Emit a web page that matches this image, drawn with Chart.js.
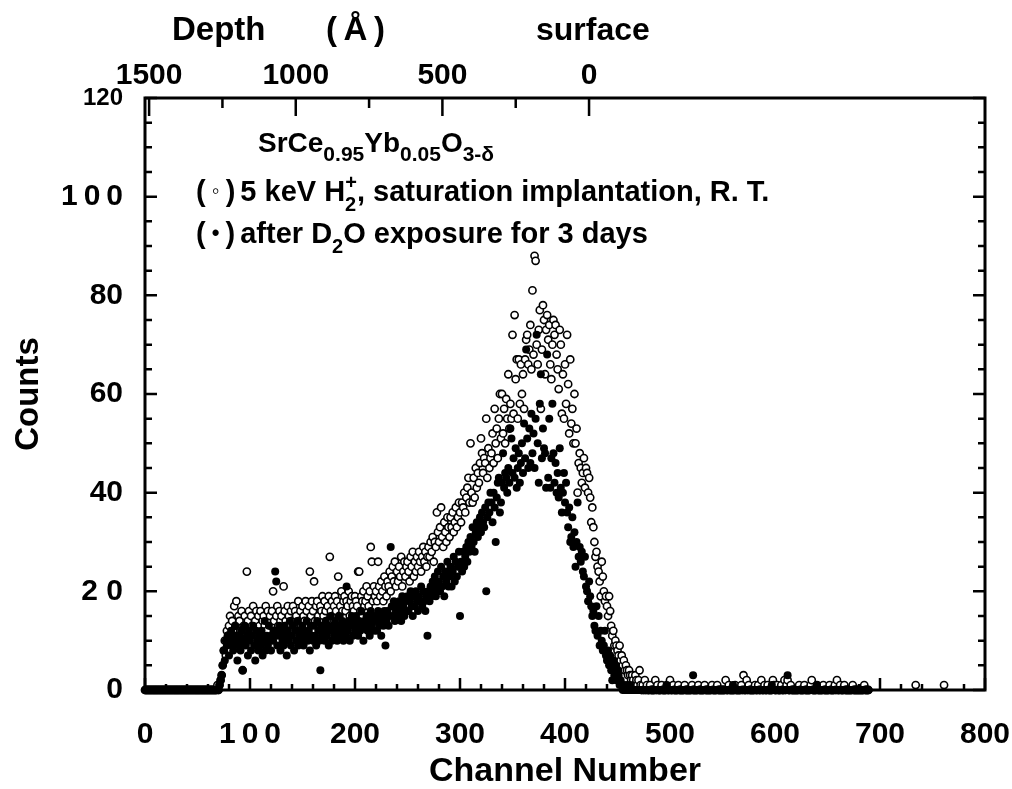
<!DOCTYPE html>
<html>
<head>
<meta charset="utf-8">
<script src="https://cdn.jsdelivr.net/npm/chart.js@4/dist/chart.umd.min.js"></script>
<style>
  html, body { margin: 0; padding: 0; background: #fff; }
</style>
</head>
<body>
<canvas id="c" width="1012" height="789"></canvas>
<script>
const n = null;

// counts per channel, channel 0..799
// (o) 5 keV H2+, saturation implantation
const implanted = [
  0,0,0,0,0,0,0,0,0,0, 0,0,0,0,0,0,0,0,0,0, 0,0,0,0,0,0,0,0,0,0,
  0,0,0,0,0,0,0,0,0,0, 0,0,0,0,0,0,0,0,0,0, 0,0,0,0,0,0,0,0,0,0,
  0,0,0,0,0,0,0,0,0,1, 0,1,2,3,5,8,10,7,12,11,
  13,15,10,14,12,17,13,18,11,15, 14,12,16,4,13,15,11,24,14,16,
  12,15,13,17,10,14,16,12,15,13, 16,11,14,15,13,17,12,16,14,15,
  13,16,20,14,12,15,17,13,16,14, 15,12,21,16,14,13,17,15,12,16,
  14,17,13,16,15,11,18,14,16,13, 17,15,14,18,16,13,17,24,15,18,
  16,22,14,17,18,15,13,17,16,19, 15,18,16,14,17,19,27,16,18,15,
  17,19,16,18,23,15,17,20,16,18, 19,16,18,17,20,15,18,19,17,16,
  19,18,17,24,24,16,19,18,20,17, 18,21,19,17,20,29,26,18,21,19,
  20,18,26,21,19,22,20,18,23,21, 19,22,21,24,20,23,25,22,26,21,
  24,22,25,23,27,21,24,26,23,25, 26,24,22,27,25,28,23,26,24,27,
  25,28,26,24,27,29,26,28,25,27, 29,27,30,28,31,26,30,29,36,32,
  30,33,37,31,29,34,32,30,35,33, 31,35,33,36,32,34,37,33,35,38,
  36,34,38,37,40,36,39,41,43,38, 50,40,38,43,39,45,41,44,42,46,
  51,48,44,47,46,55,43,49,45,47, 48,52,46,57,50,53,47,55,60,51,
  60,52,57,50,59,55,64,53,58,55, 72,56,76,63,67,55,67,58,66,60,
  64,57,67,71,72,66,69,74,65,81, 68,88,87,70,66,73,77,57,69,78,
  75,64,73,76,71,74,66,63,70,75, 72,74,68,65,61,73,70,56,64,55,
  66,58,72,62,52,67,54,57,50,60, 50,53,40,46,48,45,42,44,47,41,
  45,44,40,43,39,34,37,33,30,27, 28,25,24,22,19,26,23,20,18,19,
  17,15,19,16,13,11,12,9,10,9, 8,7,9,6,7,5,6,4,5,4,
  3,4,3,2,3,2,1,3,2,1, 2,4,1,0,1,0,2,0,1,0,
  0,1,0,0,0,0,2,0,1,0, 0,0,1,0,0,0,0,1,0,0,
  2,0,0,1,0,0,0,0,1,0, 0,0,0,0,1,0,0,0,0,0,
  0,1,0,0,0,0,0,1,0,0, 0,0,0,1,0,0,0,0,0,0,
  1,0,0,0,0,1,0,0,0,0, 0,0,0,2,0,0,1,0,0,0,
  0,0,1,0,0,0,0,0,1,0, 3,0,0,2,0,1,0,0,0,0,
  0,1,0,0,1,0,0,2,0,0, 1,0,0,1,0,0,0,0,2,1,
  0,0,1,0,0,0,1,0,0,2, 0,1,2,0,0,1,0,0,0,0,
  0,0,0,1,0,0,0,0,1,0, 0,0,0,0,1,2,0,0,0,0,
  1,0,0,0,0,0,1,0,0,0, 0,0,1,0,0,0,0,1,0,2,
  0,0,1,0,0,0,1,0,0,0, 0,0,0,0,1,0,0,0,0,0,
  0,0,0,0,0,1,0,0,0,0, n,n,n,n,n,n,n,n,n,n,
  n,n,n,n,n,n,n,n,n,n, n,n,n,n,n,n,n,n,n,n,
  n,n,n,n,n,n,n,n,n,n, n,n,n,n,1,n,n,n,n,n,
  n,n,n,n,n,n,n,n,n,n, n,n,n,n,n,n,n,n,n,n,
  n,1,n,n,n,n,n,n,n,n, n,n,n,n,n,n,n,n,n,n
];

// (*) after D2O exposure for 3 days
const exposed = [
  0,0,0,0,0,0,0,0,0,0, 0,0,0,0,0,0,0,0,0,0, 0,0,0,0,0,0,0,0,0,0,
  0,0,0,0,0,0,0,0,0,0, 0,0,0,0,0,0,0,0,0,0, 0,0,0,0,0,0,0,0,0,0,
  0,0,0,0,0,0,0,0,0,0, 0,1,2,3,5,8,6,10,9,11,
  7,10,12,9,8,11,13,10,6,9, 11,8,12,4,10,13,9,11,7,12,
  10,8,11,13,9,6,12,10,8,11, 9,12,7,10,14,8,11,9,13,10,
  8,11,10,12,24,22,9,11,13,8, 12,10,9,13,11,7,12,10,14,9,
  11,13,8,12,10,14,9,11,12,10, 13,9,12,11,14,10,12,8,13,11,
  10,13,11,9,14,12,10,4,13,11, 12,10,14,11,13,9,12,15,10,13,
  11,14,12,10,13,15,11,12,14,10, 13,11,21,12,14,10,13,15,11,14,
  12,15,13,11,14,12,16,13,10,14, 13,15,12,14,11,16,13,15,12,14,
  15,12,16,13,14,11,15,13,16,9, 14,16,13,15,29,17,15,18,14,16,
  17,15,18,16,14,19,17,15,18,16, 19,16,18,20,17,15,19,17,20,18,
  16,19,18,21,17,20,18,16,19,11, 20,18,21,19,22,20,23,19,21,24,
  22,20,25,21,23,19,24,22,26,21, 23,25,21,24,27,22,26,23,25,28,
  15,26,24,28,25,27,29,26,30,28, 31,29,33,30,28,32,34,31,33,35,
  32,36,34,33,37,20,35,38,36,40, 38,34,40,37,30,39,42,43,36,38,
  42,48,41,44,43,40,45,42,53,51, 44,47,43,49,41,45,48,42,46,50,
  44,54,47,69,51,45,53,46,56,48, 52,45,55,72,50,42,58,64,47,53,
  49,48,41,68,43,55,41,47,58,48, 42,46,40,44,39,49,41,36,40,44,
  38,42,36,33,37,30,31,35,29,32, 25,30,38,27,29,26,28,24,23,27,
  21,20,18,22,19,17,15,16,13,12, 17,11,15,9,12,10,8,9,12,7,
  6,8,5,7,4,2,6,3,5,2, 4,3,1,2,1,0,1,0,0,1,
  0,0,1,0,0,0,0,0,0,0, 0,0,0,0,0,0,0,0,0,0,
  0,0,0,0,0,0,0,0,0,0, 0,0,0,0,0,0,0,1,0,0,
  0,0,0,0,0,0,0,0,0,0, 0,0,0,0,0,0,0,0,0,0,
  0,0,3,0,0,0,0,0,0,0, 0,0,0,0,0,0,0,0,0,0,
  0,0,0,0,0,0,0,0,0,0, 0,0,0,0,0,0,0,0,0,0,
  1,0,0,0,0,0,0,0,0,0, 0,0,0,0,0,0,0,0,0,0,
  0,0,0,0,0,0,0,0,0,0, 0,0,0,0,0,0,0,1,0,0,
  0,0,0,0,0,0,0,0,0,0, 0,0,3,0,0,0,0,0,0,0,
  0,0,0,0,0,0,0,0,0,0, 0,0,0,0,0,0,0,0,0,0,
  1,0,0,0,0,0,0,0,0,0, 0,0,0,0,0,0,0,0,0,0,
  0,0,0,0,0,0,0,0,0,0, 0,0,0,0,0,0,0,0,0,0,
  0,0,0,0,0,0,0,0,0,0, n,n,n,n,n,n,n,n,n,n,
  n,n,n,n,n,n,n,n,n,n, n,n,n,n,n,n,n,n,n,n,
  n,n,n,n,n,n,n,n,n,n, n,n,n,n,n,n,n,n,n,n,
  n,n,n,n,n,n,n,n,n,n, n,n,n,n,n,n,n,n,n,n,
  n,n,n,n,n,n,n,n,n,n, n,n,n,n,n,n,n,n,n,n
];

const channels = implanted.map((_, i) => i);

const xTickLabels = [0, 100, 200, 300, 400, 500, 600, 700, 800];
const yTickLabels = [0, 20, 40, 60, 80, 100, 120];
const depthLabels = [1500, 1000, 500, 0];
const depthMinor = [1250, 750, 250];
// depth (A) at the left and right edge of the channel axis
const depthLeft = 1514;
const depthRight = -1350;

const FONT = '"Liberation Sans", Arial, Helvetica, sans-serif';
const THIN = '\u2009';

const toPoints = vals => vals
  .map((v, i) => v === null ? null : { x: channels[i], y: v })
  .filter(Boolean);

// keep the plot box fixed: no extra room for overhanging labels
const noOverhang = s => {
  s.paddingLeft = 0; s.paddingRight = 0;
  s.paddingTop = 0; s.paddingBottom = 0;
};

// frame and inward tick marks
const frameTicks = {
  id: 'frameTicks',
  beforeDatasetsDraw(chart) {
    const { ctx, chartArea: a } = chart;
    const x = chart.scales.x, y = chart.scales.y, d = chart.scales.x2;
    ctx.save();
    ctx.strokeStyle = '#000';
    ctx.lineWidth = 3;
    ctx.strokeRect(a.left, a.top, a.right - a.left, a.bottom - a.top);
    ctx.lineWidth = 2.5;
    ctx.beginPath();
    for (let v = 0; v <= 800; v += 20) {
      const px = x.getPixelForValue(v);
      const len = v % 100 === 0 ? 12 : 6;
      ctx.moveTo(px, a.bottom); ctx.lineTo(px, a.bottom - len);
    }
    for (let v = 0; v <= 120; v += 5) {
      const py = y.getPixelForValue(v);
      const len = v % 20 === 0 ? 12 : 7;
      ctx.moveTo(a.left, py); ctx.lineTo(a.left + len, py);
      ctx.moveTo(a.right, py); ctx.lineTo(a.right - len, py);
    }
    depthLabels.concat(depthMinor).forEach(v => {
      const px = d.getPixelForValue(v);
      const len = v % 500 === 0 ? 18 : 10;
      ctx.moveTo(px, a.top); ctx.lineTo(px, a.top + len);
    });
    ctx.stroke();
    ctx.restore();
  }
};

// texts: depth header and sample notes
function rich(ctx, x, y, parts) {
  parts.forEach(p => {
    ctx.font = 'bold ' + p.size + 'px ' + FONT;
    ctx.fillText(p.t, x, y + (p.dy || 0));
    x += ctx.measureText(p.t).width + (p.gap || 0);
  });
}

const notes = {
  id: 'notes',
  afterDraw(chart) {
    const ctx = chart.ctx;
    ctx.save();
    ctx.fillStyle = '#000';
    ctx.textBaseline = 'alphabetic';
    ctx.textAlign = 'left';
    ctx.font = 'bold 33px ' + FONT;
    ctx.fillText('Depth', 172, 40);
    ctx.fillText('(' + THIN + 'Å' + THIN + ')', 326, 40);
    ctx.font = 'bold 32px ' + FONT;
    ctx.fillText('surface', 536, 40);

    rich(ctx, 258, 152, [
      { t: 'SrCe', size: 28 }, { t: '0.95', size: 21, dy: 9 },
      { t: 'Yb', size: 28 }, { t: '0.05', size: 21, dy: 9 },
      { t: 'O', size: 28 }, { t: '3-δ', size: 21, dy: 9 }
    ]);
    rich(ctx, 196, 201, [
      { t: '(', size: 29 }, { t: ' ◦ ', size: 22, dy: -3 }, { t: ')', size: 29, gap: 5 },
      { t: '5 keV H', size: 29 }, { t: '2', size: 20, dy: 10, gap: -11 },
      { t: '+', size: 20, dy: -12 },
      { t: ', saturation implantation, R. T.', size: 29 }
    ]);
    rich(ctx, 196, 243, [
      { t: '(', size: 29 }, { t: ' • ', size: 22, dy: -3 }, { t: ')', size: 29, gap: 5 },
      { t: 'after D', size: 29 }, { t: '2', size: 20, dy: 10 },
      { t: 'O exposure for 3 days', size: 29 }
    ]);
    ctx.restore();
  }
};

new Chart(document.getElementById('c'), {
  type: 'scatter',
  data: {
    datasets: [
      {
        label: 'after D2O exposure for 3 days',
        data: toPoints(exposed),
        pointRadius: 4,
        pointBorderWidth: 0,
        pointBackgroundColor: '#000',
        pointBorderColor: '#000',
        order: 0,
        clip: false
      },
      {
        label: '5 keV H2+, saturation implantation, R. T.',
        data: toPoints(implanted),
        pointRadius: 3.6,
        pointBorderWidth: 1.6,
        pointBackgroundColor: '#fff',
        pointBorderColor: '#000',
        order: 1,
        clip: false
      }
    ]
  },
  options: {
    responsive: false,
    animation: false,
    devicePixelRatio: 1,
    layout: { padding: { left: 0, right: 27, top: 0, bottom: 0 } },
    plugins: {
      legend: { display: false },
      tooltip: { enabled: false }
    },
    scales: {
      x: {
        type: 'linear',
        position: 'bottom',
        min: 0, max: 800,
        afterBuildTicks: s => { s.ticks = xTickLabels.map(v => ({ value: v })); },
        ticks: {
          autoSkip: false, maxRotation: 0, padding: 27, color: '#000',
          callback: v => v === 100 ? ['1', '0', '0'].join(THIN) : String(v),
          font: { family: FONT, weight: 'bold', size: 30 }
        },
        grid: { display: false, drawTicks: false },
        border: { display: false },
        title: {
          display: true, text: 'Channel Number', color: '#000',
          font: { family: FONT, weight: 'bold', size: 34, lineHeight: 1 },
          padding: { top: 0, bottom: 0 }
        },
        afterFit: s => { noOverhang(s); s.height = 99; }
      },
      x2: {
        type: 'linear',
        position: 'top',
        reverse: true,
        min: depthRight, max: depthLeft,
        afterBuildTicks: s => { s.ticks = depthLabels.map(v => ({ value: v })); },
        ticks: {
          autoSkip: false, maxRotation: 0, padding: 4, color: '#000',
          callback: v => String(v),
          font: { family: FONT, weight: 'bold', size: 30 }
        },
        grid: { display: false, drawTicks: false },
        border: { display: false },
        afterFit: s => { noOverhang(s); s.height = 98; }
      },
      y: {
        min: 0, max: 120,
        afterBuildTicks: s => { s.ticks = yTickLabels.map(v => ({ value: v })); },
        ticks: {
          padding: 22, color: '#000',
          callback: v => v === 20 ? '2 0' : v === 100 ? ['1', '0', '0'].join(THIN) : String(v),
          font: c => ({ family: FONT, weight: 'bold', size: c.tick && c.tick.value === 120 ? 24 : 30 })
        },
        grid: { display: false, drawTicks: false },
        border: { display: false },
        title: {
          display: true, text: 'Counts', color: '#000',
          font: { family: FONT, weight: 'bold', size: 33 },
          padding: { top: 9, bottom: 6 }
        },
        afterFit: s => { noOverhang(s); s.width = 145; }
      }
    }
  },
  plugins: [frameTicks, notes]
});
</script>
</body>
</html>
